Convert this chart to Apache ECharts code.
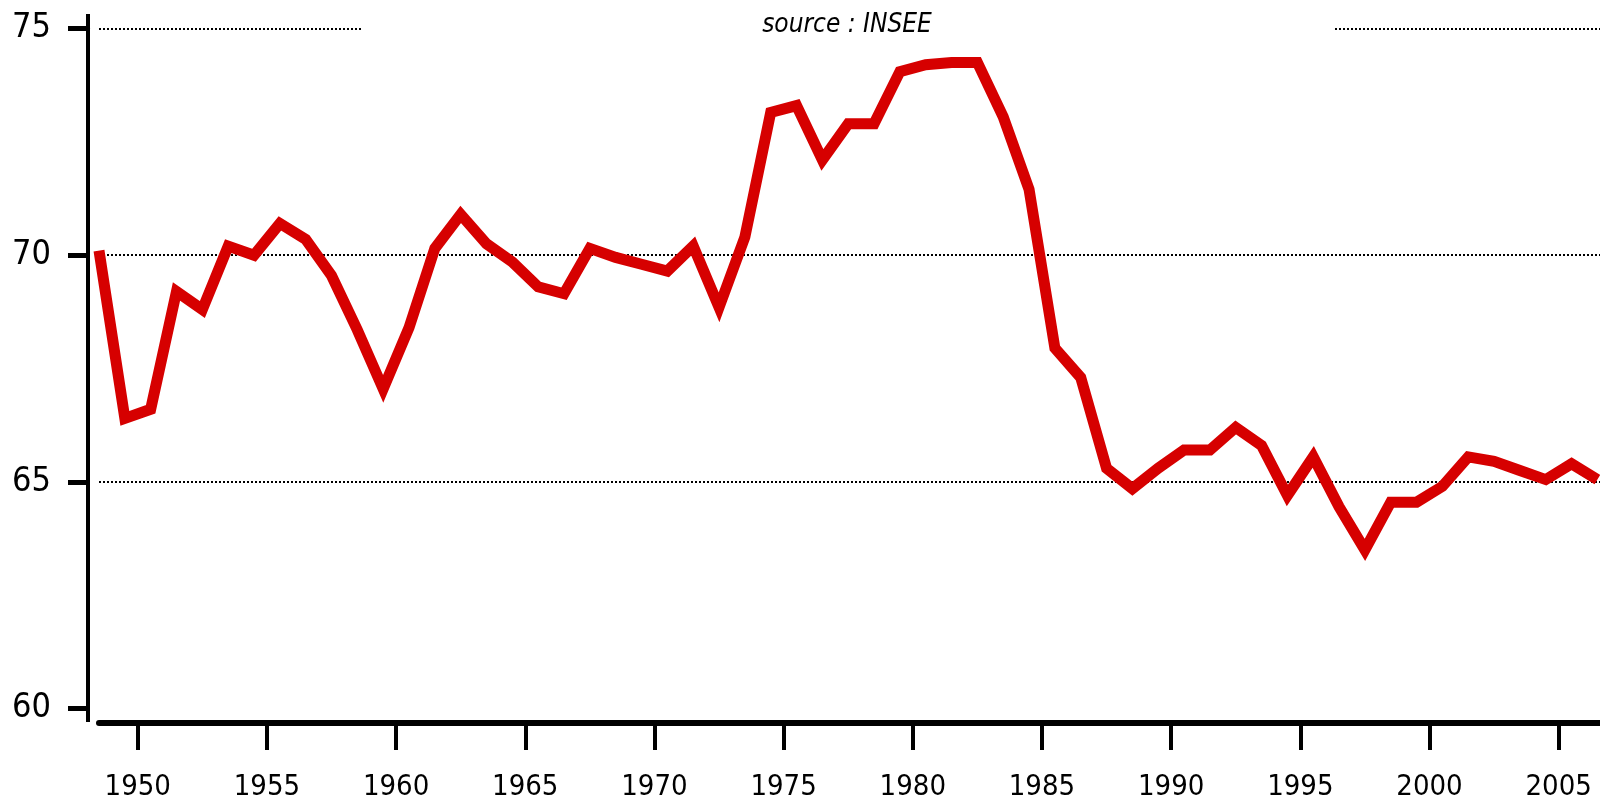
<!DOCTYPE html>
<html>
<head>
<meta charset="utf-8">
<script src="https://cdn.jsdelivr.net/npm/echarts@6/dist/echarts.min.js"></script>
<style>
html,body{margin:0;padding:0;background:#fff;}
#c{width:1600px;height:802px;}
</style>
</head>
<body>
<div id="c"></div>
<script>
// Annual data (plotted at mid-year)
const years = [1948,1949,1950,1951,1952,1953,1954,1955,1956,1957,
  1958,1959,1960,1961,1962,1963,1964,1965,1966,1967,
  1968,1969,1970,1971,1972,1973,1974,1975,1976,1977,
  1978,1979,1980,1981,1982,1983,1984,1985,1986,1987,
  1988,1989,1990,1991,1992,1993,1994,1995,1996,1997,
  1998,1999,2000,2001,2002,2003,2004,2005,2006];
const wageShare = [70.1,66.4,66.6,69.2,68.8,70.2,70.0,70.7,70.35,69.55,
  68.35,67.05,68.4,70.15,70.9,70.25,69.85,69.3,69.15,70.15,
  69.95,69.8,69.65,70.2,68.85,70.4,73.15,73.3,72.1,72.9,
  72.9,74.05,74.2,74.25,74.25,73.05,71.45,67.95,67.3,65.3,
  64.85,65.3,65.7,65.7,66.2,65.8,64.7,65.55,64.45,63.5,
  64.55,64.55,64.9,65.55,65.45,65.25,65.05,65.4,65.05];
const xTickYears = [1950,1955,1960,1965,1970,1975,1980,1985,1990,1995,2000,2005];
const sourceText = 'source : INSEE';

const FONT = "'DejaVu Sans Condensed','Liberation Sans Narrow',sans-serif";
const chart = echarts.init(document.getElementById('c'));
chart.setOption({
  animation: false,
  backgroundColor: '#ffffff',
  grid: {left: 99, right: 0, top: 28.5, bottom: 86.5, containLabel: false},
  xAxis: {
    type: 'value', min: 1948.5, max: 2006.6, offset: 14.5,
    axisLine: {show: true, onZero: false, lineStyle: {color: '#000', width: 6}},
    axisTick: {show: true, customValues: xTickYears, length: 27, lineStyle: {color: '#000', width: 4}},
    axisLabel: {customValues: xTickYears, fontFamily: FONT, fontSize: 29, color: '#000', margin: 50,
      formatter: v => String(v)},
    splitLine: {show: false}
  },
  yAxis: {
    type: 'value', min: 60, max: 75, interval: 5, offset: 11,
    axisLine: {show: true, onZero: false, lineStyle: {color: '#000', width: 4}},
    axisTick: {show: true, length: 20, lineStyle: {color: '#000', width: 5}},
    axisLabel: {fontFamily: FONT, fontSize: 34, color: '#000', margin: 37},
    splitLine: {show: true, showMinLine: false, lineStyle: {color: '#000', width: 2, type: [2, 2]}}
  },
  series: [{
    type: 'line',
    data: years.map((y, i) => [y + 0.5, wageShare[i]]),
    symbol: 'none',
    lineStyle: {color: '#d60000', width: 11, cap: 'butt', join: 'miter', miterLimit: 10},
    z: 3
  }],
  graphic: [
    // y-axis line runs a little beyond the plotted range, as in the original
    {type: 'line', z: 50, shape: {x1: 88, y1: 14, x2: 88, y2: 722}, style: {stroke: '#000', lineWidth: 4}},
    {type: 'rect', left: 362, top: 14, z: 100, shape: {width: 973, height: 28}, style: {fill: '#ffffff'}},
    {type: 'text', x: 847, y: 25, z: 101,
      style: {text: sourceText, fontFamily: FONT, fontStyle: 'italic', fontSize: 26, fill: '#000',
        align: 'center', verticalAlign: 'middle'}}
  ]
});
</script>
</body>
</html>
